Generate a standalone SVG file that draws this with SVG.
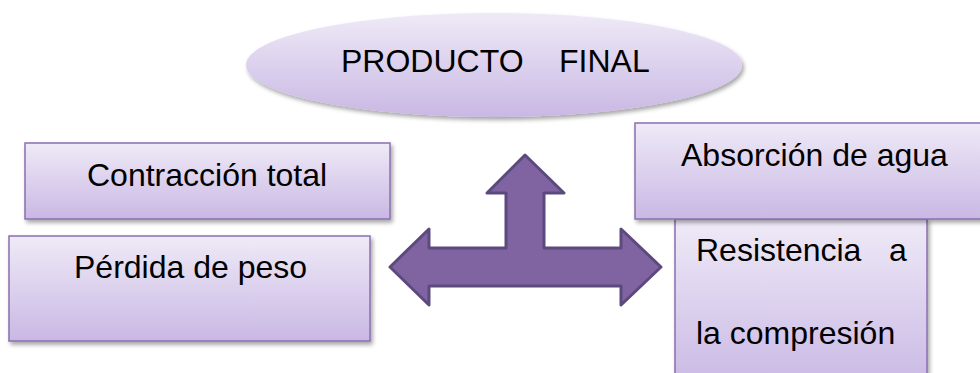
<svg xmlns="http://www.w3.org/2000/svg" width="980" height="373" viewBox="0 0 980 373">
<defs>
<linearGradient id="g" x1="0" y1="0" x2="0" y2="1">
<stop offset="0" stop-color="#efeaf7"/>
<stop offset="1" stop-color="#c9b8e4"/>
</linearGradient>
<filter id="sh" x="-10%" y="-10%" width="120%" height="130%">
<feDropShadow dx="2" dy="3" stdDeviation="2" flood-color="#000" flood-opacity="0.35"/>
</filter>
<style>
.box{fill:url(#g);stroke:#8a6fb0;stroke-width:1.5;filter:url(#sh)}
.ell{fill:url(#g);filter:url(#sh)}
.t{font-family:"Liberation Sans",Arial,sans-serif;font-size:32px;fill:#000}
.arr{fill:#8064a2;stroke:#5c4a7e;stroke-width:3;stroke-linejoin:round}
</style>
</defs>
<rect width="980" height="373" fill="#fff"/>
<g id="producto-final">
<ellipse class="ell" cx="494" cy="65" rx="248" ry="52"/>
<text class="t"><tspan x="341" y="72">PRODUCTO</tspan><tspan x="559" y="72">FINAL</tspan></text>
</g>
<g id="contraccion-total">
<rect class="box" x="25" y="143" width="365" height="76"/>
<text class="t" x="87" y="186">Contracción total</text>
</g>
<g id="perdida-peso">
<rect class="box" x="9" y="236" width="361" height="105"/>
<text class="t" x="74" y="278">Pérdida de peso</text>
</g>
<g id="resistencia">
<rect class="box" x="675" y="219" width="252" height="170"/>
<text class="t"><tspan x="696" y="261">Resistencia</tspan><tspan x="889" y="261">a</tspan><tspan x="696" y="344">la compresión</tspan></text>
</g>
<g id="absorcion-agua">
<rect class="box" x="635" y="123" width="360" height="96"/>
<text class="t" x="681" y="166">Absorción de agua</text>
</g>
<g id="connectors">
<polygon class="arr" points="390,267 429,229 429,248 506,248 506,193 487,193 525,155 564,193 544,193 544,248 621,248 621,229 661,267 621,305 621,286 429,286 429,305"/>
</g>
</svg>
